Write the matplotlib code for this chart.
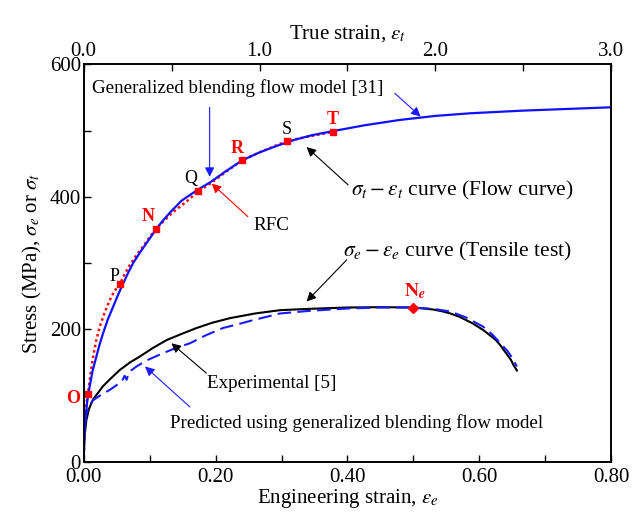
import numpy as np
import matplotlib
matplotlib.use("Agg")
import matplotlib.pyplot as plt

plt.rcParams['font.family'] = ['Liberation Serif', 'DejaVu Serif']
plt.rcParams['mathtext.fontset'] = 'stix'

# flow curve (true stress vs true strain), generalized blending model
flow_strain = [0.0, 0.002, 0.006, 0.011, 0.02, 0.034, 0.05, 0.072, 0.09, 0.11, 0.137, 0.167, 0.195,
               0.224, 0.252, 0.281, 0.32, 0.357, 0.414, 0.45, 0.49, 0.556, 0.6, 0.651, 0.72, 0.8,
               0.901, 1.0, 1.1, 1.2, 1.3, 1.416, 1.6, 1.8, 2.0, 2.2, 2.5, 2.8, 3.0]
flow_stress = [0, 30, 52, 68, 92, 114, 137, 159, 177, 194, 215, 234, 252,
               269, 285, 300, 316, 330, 352, 364, 376, 394, 402, 411, 422, 437,
               455, 467, 477, 486, 493, 499, 508, 516, 522, 526, 530, 533, 535]

# RFC (red dotted) and its labelled points
rfc_strain = [0.0, 0.003, 0.01, 0.024, 0.04, 0.053, 0.07, 0.091, 0.12, 0.148, 0.175, 0.205, 0.232,
              0.262, 0.3, 0.338, 0.375, 0.41, 0.45, 0.5, 0.585, 0.651, 0.72, 0.8, 0.901, 1.0,
              1.154, 1.3, 1.416]
rfc_stress = [0, 45, 78, 102, 135, 158, 182, 204, 226, 244, 258, 268, 283,
              297, 312, 325, 339, 351, 362, 375, 393, 408, 420, 436, 455, 467,
              484, 492, 498]
pt_names = ['O', 'P', 'N', 'Q', 'R', 'S', 'T']
pt_strain = [0.024, 0.205, 0.41, 0.651, 0.901, 1.154, 1.416]
pt_stress = [102, 268, 351, 408, 455, 484, 498]

# engineering stress-strain
exp_strain = [0.0, 0.001, 0.004, 0.008, 0.014, 0.02, 0.029, 0.04, 0.055, 0.07, 0.085, 0.105, 0.126,
              0.148, 0.171, 0.195, 0.222, 0.26, 0.298, 0.343, 0.4, 0.45, 0.5, 0.53, 0.545, 0.556,
              0.57, 0.58, 0.59, 0.606, 0.615, 0.625, 0.632, 0.637, 0.643, 0.648, 0.652, 0.657]
exp_stress = [0, 35, 63, 80, 94, 102, 114, 125, 139, 150, 159, 172, 184,
              193, 202, 210, 217, 224, 229, 231, 233, 233.5, 233, 230, 227, 224,
              219, 214, 209, 199, 192, 184, 176, 169, 161, 154, 146, 138]
pred_strain = [0.0, 0.001, 0.004, 0.009, 0.014, 0.02, 0.029, 0.04, 0.05, 0.058, 0.062, 0.065,
               0.068, 0.072, 0.08, 0.095, 0.12, 0.14, 0.161, 0.185, 0.211, 0.235, 0.257, 0.298,
               0.343, 0.4, 0.45, 0.5, 0.53, 0.556, 0.58, 0.606, 0.62, 0.632, 0.643, 0.65, 0.657]
pred_stress = [0, 40, 73, 86, 93, 97, 103, 109, 116, 122, 130, 124,
               133, 138, 144, 153, 164, 172, 179, 191, 202, 208, 214, 224,
               228, 231.5, 233, 233, 231, 227, 218, 204, 192, 179, 167, 157, 144]
neck_strain = [0.50]
neck_stress = [233]

fig = plt.figure(figsize=(6.44, 5.22), dpi=100)
ax = fig.add_axes([0.130, 0.115, 0.819, 0.762])
ax2 = ax.twiny()

ax.plot(exp_strain, exp_stress, color='black', lw=1.5)
ax.plot(pred_strain, pred_stress, color='#1a1aff', lw=1.5, ls=(0, (6.5, 3)))
ax.plot(neck_strain, neck_stress, 'D', color='red', ms=5)

ax2.plot(rfc_strain, rfc_stress, color='red', lw=1.8, ls=(0, (1, 1.2)))
ax2.plot(flow_strain, flow_stress, color='#1010ff', lw=1.6)
ax2.plot(pt_strain, pt_stress, 's', color='red', ms=4, clip_on=False)

ax.set_xlim(0, 0.8)
ax.set_ylim(0, 600)
ax2.set_xlim(0, 3.0)

ax.set_xticks(np.arange(0, 0.81, 0.2))
ax.set_xticks(np.arange(0, 0.81, 0.1), minor=True)
ax.set_xticklabels(['0.00', '0.20', '0.40', '0.60', '0.80'])
ax.set_yticks([0, 200, 400, 600])
ax.set_yticks(np.arange(0, 601, 100), minor=True)
ax2.set_xticks([0, 1, 2, 3])
ax2.set_xticks(np.arange(0, 3.01, 0.5), minor=True)
ax2.set_xticklabels(['0.0', '1.0', '2.0', '3.0'])

for a in (ax, ax2):
    a.tick_params(which='both', direction='in', length=5, width=1, labelsize=15, pad=2)
    a.tick_params(right=False)
    for sp in a.spines.values():
        sp.set_linewidth(1.2)
ax.tick_params(axis='x', pad=4)

ax.set_xlabel(r'Engineering strain, $\varepsilon_e$', fontsize=15, labelpad=0)
ax2.set_xlabel(r'True strain, $\varepsilon_t$', fontsize=15, labelpad=3)
ax.set_ylabel(r'Stress (MPa), $\sigma_e$ or $\sigma_t$', fontsize=15, labelpad=4)

# point labels
red_pts = {'O', 'N', 'R', 'T'}
lab_pos = {'O': (-0.016, 95), 'P': (0.047, 280), 'N': (0.098, 371), 'Q': (0.162, 428),
           'R': (0.233, 473), 'S': (0.308, 501), 'T': (0.378, 516)}
for n in pt_names:
    x, y = lab_pos[n]
    if n in red_pts:
        ax.text(x, y, n, color='red', fontsize=13, fontweight='bold', ha='center', va='center', clip_on=False)
    else:
        ax.text(x, y, n, color='black', fontsize=13, ha='center', va='center')
ax.text(0.502, 257, r'$\mathbf{N}_{\boldsymbol{e}}$', color='red', fontsize=14, ha='center', va='center')

fs = 13.7
arrow = dict(arrowstyle='-|>', lw=0.8, mutation_scale=14, shrinkA=0, shrinkB=0)

ax.text(0.012, 564, 'Generalized blending flow model [31]', fontsize=fs, ha='left', va='center')
ax.annotate('', xy=(0.191, 430), xytext=(0.191, 535), arrowprops=dict(arrow, color='#1a1aff'))
ax.annotate('', xy=(0.511, 521), xytext=(0.472, 556), arrowprops=dict(arrow, color='#1a1aff'))

ax.text(0.285, 356, 'RFC', fontsize=fs, ha='center', va='center')
ax.annotate('', xy=(0.194, 420), xytext=(0.249, 370), arrowprops=dict(arrow, color='red'))

ax.text(0.405, 410, r'$\sigma_t - \varepsilon_t$ curve (Flow curve)', fontsize=15.5, ha='left', va='center')
ax.annotate('', xy=(0.338, 475), xytext=(0.401, 418), arrowprops=dict(arrow, color='black'))

ax.text(0.394, 317, r'$\sigma_e - \varepsilon_e$ curve (Tensile test)', fontsize=15.5, ha='left', va='center')
ax.annotate('', xy=(0.338, 242), xytext=(0.399, 305), arrowprops=dict(arrow, color='black'))

ax.text(0.187, 118, 'Experimental [5]', fontsize=fs, ha='left', va='center')
ax.annotate('', xy=(0.133, 179), xytext=(0.186, 134), arrowprops=dict(arrow, color='black'))

ax.text(0.131, 59, 'Predicted using generalized blending flow model', fontsize=fs, ha='left', va='center')
ax.annotate('', xy=(0.093, 144), xytext=(0.161, 83), arrowprops=dict(arrow, color='#1a1aff'))

fig.savefig('out.png', dpi=100)
